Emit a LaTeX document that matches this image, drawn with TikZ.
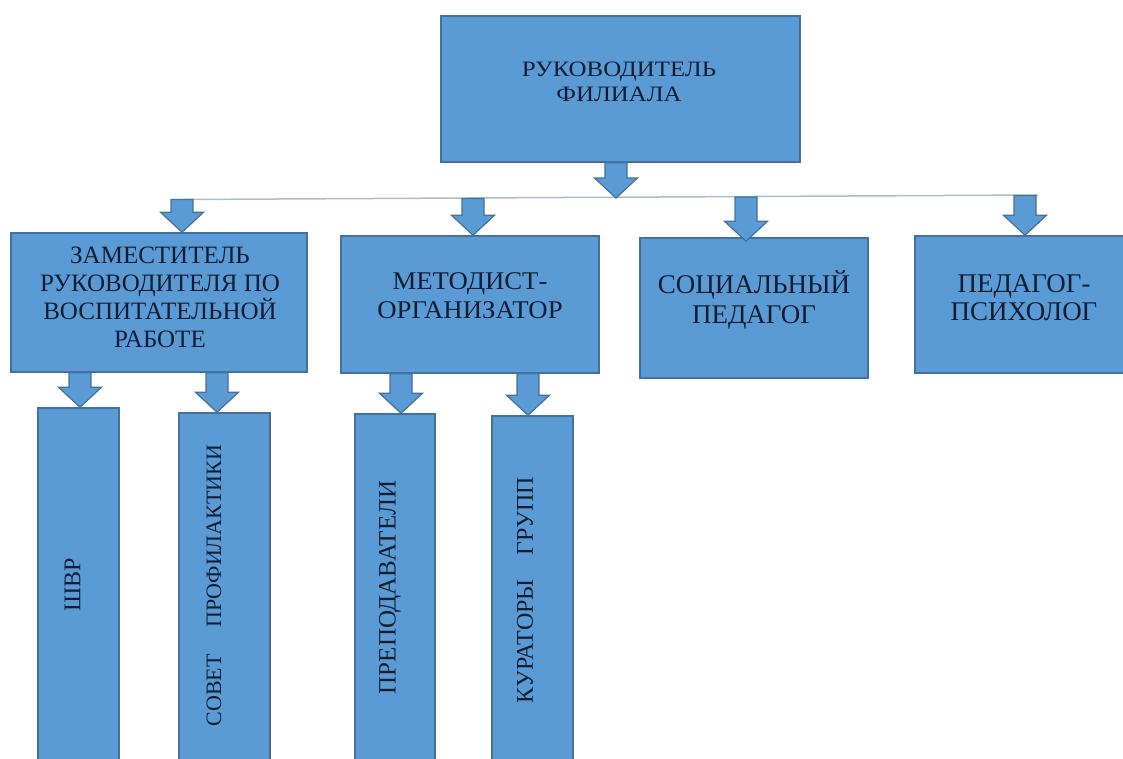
\documentclass[tikz,border=0pt]{standalone}
\usepackage{fontspec}
\setmainfont{Liberation Serif}
\newfontfamily\wideA[FakeStretch=1.13]{Liberation Serif}
\newfontfamily\wideC[FakeStretch=1.05]{Liberation Serif}
\usetikzlibrary{calc}
\definecolor{boxfill}{HTML}{5B9BD5}
\definecolor{boxline}{HTML}{41719C}
\definecolor{linecol}{HTML}{A9BCD0}
\definecolor{txtcol}{HTML}{0F1E33}
\tikzset{
  box/.style={draw=boxline, fill=boxfill, line width=1.5pt, rectangle, inner sep=0pt},
  blk/.style={draw=boxline, fill=boxfill, line width=1.2pt, line join=miter},
  hline/.style={draw=linecol, line width=1.5pt},
  lbl/.style={text=txtcol, align=center, inner sep=0pt},
  vlbl/.style={text=txtcol, inner sep=0pt, rotate=90},
}
\newcommand\blkarrow[2]{\path[blk] let \p1=(#1), \p2=(#2) in
  (\x1-11pt,\y1) -- (\x1+11pt,\y1) -- (\x1+11pt,\y2+20pt) -- (\x1+21.5pt,\y2+20pt)
  -- (\x1,\y2) -- (\x1-21.5pt,\y2+20pt) -- (\x1-11pt,\y2+20pt) -- cycle;}
\begin{document}
\begin{tikzpicture}[x=1pt,y=-1pt]
\useasboundingbox (0,0) rectangle (1123,758);
\clip (0,0) rectangle (1123,758);
% boxes
\node[box, minimum width=359pt, minimum height=146pt] (top) at (620.5,89) {};
\node[box, minimum width=296pt, minimum height=139pt] (zam) at (159,302.5) {};
\node[box, minimum width=258pt, minimum height=137pt] (met) at (470,304.5) {};
\node[box, minimum width=228pt, minimum height=140pt] (soc) at (754,308) {};
\node[box, minimum width=218pt, minimum height=137pt] (psy) at (1024,304.5) {};
\node[box, minimum width=81pt, minimum height=362pt] (shvr) at (78.5,589) {};
\node[box, minimum width=91pt, minimum height=357pt] (sov) at (224.5,591.5) {};
\node[box, minimum width=80pt, minimum height=356pt] (prep) at (395,592) {};
\node[box, minimum width=81pt, minimum height=354pt] (kur) at (532.5,593) {};
% texts
\node[lbl, font=\wideA\fontsize{22}{25}\selectfont] (ttop) at (619,81.5) {РУКОВОДИТЕЛЬ\\ФИЛИАЛА};
\node[lbl, font=\fontsize{25}{28}\selectfont] (tzam) at (160,297.5) {ЗАМЕСТИТЕЛЬ\\РУКОВОДИТЕЛЯ ПО\\ВОСПИТАТЕЛЬНОЙ\\РАБОТЕ};
\node[lbl, font=\wideC\fontsize{25.5}{29}\selectfont] (tmet) at (470,296) {МЕТОДИСТ-\\ОРГАНИЗАТОР};
\node[lbl, font=\fontsize{27}{30}\selectfont] (tsoc) at (754,300) {СОЦИАЛЬНЫЙ\\ПЕДАГОГ};
\node[lbl, font=\fontsize{27}{28}\selectfont] (tpsy) at (1024,298) {ПЕДАГОГ-\\ПСИХОЛОГ};
\node[vlbl, font=\fontsize{24}{28}\selectfont] (tshvr) at (72.5,585) {ШВР};
\node[vlbl, font=\fontsize{22}{26}\selectfont] (tsov) at (214,585.5) {СОВЕТ\hspace{21pt} ПРОФИЛАКТИКИ};
\node[vlbl, font=\fontsize{25}{28}\selectfont] (tprep) at (390,587.5) {ПРЕПОДАВАТЕЛИ};
\node[vlbl, font=\fontsize{24}{28}\selectfont] (tkur) at (525,590) {КУРАТОРЫ\hspace{18pt} ГРУПП};
% horizontal distribution line
\coordinate (hl1) at (182,199.5);
\coordinate (hl2) at (1038,195);
\draw[hline] (hl1) -- (hl2);
\coordinate (hs) at (616,198);
\coordinate (a2) at (473,198.5);
\coordinate (a3) at (746,197);
\coordinate (a4) at (1025,195.5);
% arrows
\blkarrow{$(top.south)+(-4.5,0)$}{hs}
\blkarrow{hl1}{zam.north}
\blkarrow{a2}{met.north}
\blkarrow{a3}{$(soc.north)+(0,4)$}
\blkarrow{a4}{psy.north}
\blkarrow{$(zam.south -| shvr.north)+(1.5,0)$}{shvr.north}
\blkarrow{$(zam.south -| sov.north)+(-7.5,0)$}{sov.north}
\blkarrow{$(met.south -| prep.north)+(6,0)$}{prep.north}
\blkarrow{$(met.south -| kur.north)+(-4.5,0)$}{kur.north}
\end{tikzpicture}
\end{document}
